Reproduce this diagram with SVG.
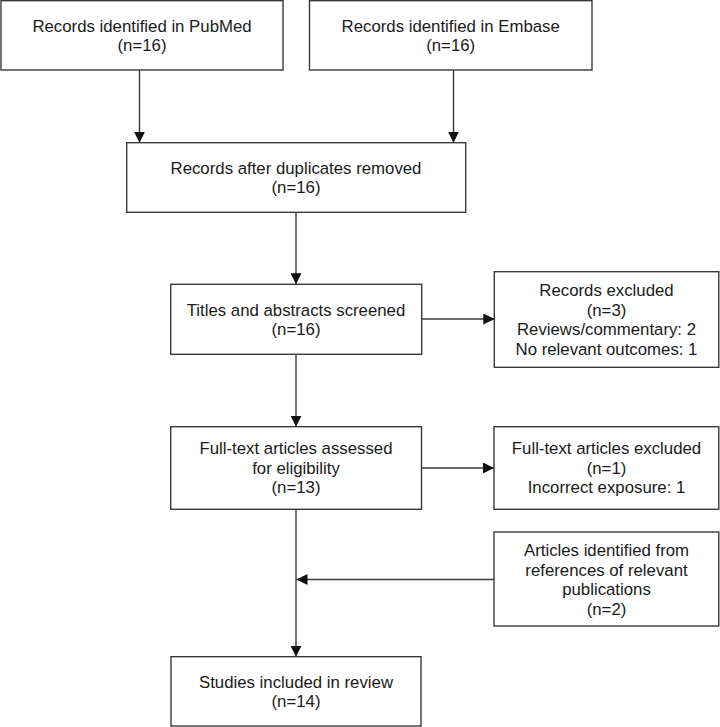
<svg xmlns="http://www.w3.org/2000/svg" width="720" height="727" viewBox="0 0 720 727">
<style>
.box{fill:#fff;stroke:#3a3a3a;stroke-width:1.4}
.t{font-family:"Liberation Sans",Arial,sans-serif;font-size:16.8px;fill:#1a1a1a;text-anchor:middle}
.c{fill:none;stroke:#3a3a3a;stroke-width:1.4}
</style>
<defs>
<marker id="ah" markerUnits="userSpaceOnUse" markerWidth="11" markerHeight="11" viewBox="0 0 10 10" refX="10" refY="5" orient="auto">
<path d="M0,0 L10,5 L0,10 Z" fill="#111"/>
</marker>
</defs>
<rect width="720" height="727" fill="#fff"/>
<g id="connectors">
<line class="c" x1="139.5" y1="70" x2="139.5" y2="142.7" marker-end="url(#ah)"/>
<line class="c" x1="453.5" y1="70" x2="453.5" y2="142.7" marker-end="url(#ah)"/>
<line class="c" x1="296" y1="212.3" x2="296" y2="284.3" marker-end="url(#ah)"/>
<line class="c" x1="421.7" y1="319" x2="494.3" y2="319" marker-end="url(#ah)"/>
<line class="c" x1="296" y1="354.3" x2="296" y2="426.7" marker-end="url(#ah)"/>
<line class="c" x1="421.5" y1="468" x2="494" y2="468" marker-end="url(#ah)"/>
<line class="c" x1="296" y1="509.3" x2="296" y2="656.7" marker-end="url(#ah)"/>
<line class="c" x1="494" y1="579.5" x2="296.5" y2="579.5" marker-end="url(#ah)"/>
</g>
<g id="pubmed">
<rect class="box" x="1" y="0.7" width="282" height="69.3"/>
<text class="t" x="142" y="31.5">Records identified in PubMed</text>
<text class="t" x="142" y="51">(n=16)</text>
</g>
<g id="embase">
<rect class="box" x="309.5" y="0.7" width="282.5" height="69.3"/>
<text class="t" x="450.7" y="31.5">Records identified in Embase</text>
<text class="t" x="450.7" y="51">(n=16)</text>
</g>
<g id="duplicates">
<rect class="box" x="126.7" y="142.7" width="339" height="69.6"/>
<text class="t" x="296" y="173.8">Records after duplicates removed</text>
<text class="t" x="296" y="193.3">(n=16)</text>
</g>
<g id="screened">
<rect class="box" x="170.7" y="284.3" width="251" height="70"/>
<text class="t" x="296" y="315.5">Titles and abstracts screened</text>
<text class="t" x="296" y="335">(n=16)</text>
</g>
<g id="excluded">
<rect class="box" x="494.3" y="271.7" width="224.5" height="95.6"/>
<text class="t" x="606.5" y="296">Records excluded</text>
<text class="t" x="606.5" y="315.5">(n=3)</text>
<text class="t" x="606.5" y="335">Reviews/commentary: 2</text>
<text class="t" x="606.5" y="354.5">No relevant outcomes: 1</text>
</g>
<g id="fulltext">
<rect class="box" x="170.7" y="426.7" width="250.8" height="82.6"/>
<text class="t" x="296" y="454">Full-text articles assessed</text>
<text class="t" x="296" y="473.5">for eligibility</text>
<text class="t" x="296" y="493">(n=13)</text>
</g>
<g id="fulltext-excluded">
<rect class="box" x="494" y="426.7" width="224.8" height="82.6"/>
<text class="t" x="606.5" y="454">Full-text articles excluded</text>
<text class="t" x="606.5" y="473.5">(n=1)</text>
<text class="t" x="606.5" y="493">Incorrect exposure: 1</text>
</g>
<g id="references">
<rect class="box" x="494" y="532" width="224.8" height="94"/>
<text class="t" x="606.5" y="556">Articles identified from</text>
<text class="t" x="606.5" y="575.5">references of relevant</text>
<text class="t" x="606.5" y="595">publications</text>
<text class="t" x="606.5" y="614.5">(n=2)</text>
</g>
<g id="included">
<rect class="box" x="171" y="656.7" width="250" height="69.3"/>
<text class="t" x="296" y="687.8">Studies included in review</text>
<text class="t" x="296" y="707.3">(n=14)</text>
</g>
</svg>
